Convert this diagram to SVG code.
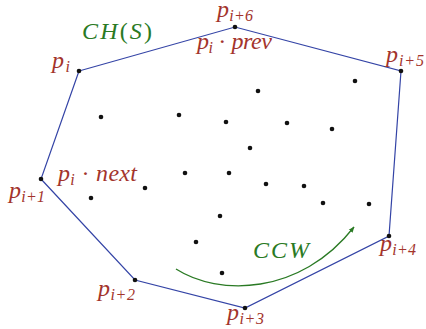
<svg xmlns="http://www.w3.org/2000/svg" width="426" height="329" viewBox="0 0 426 329">
<defs>
<style>
.pt{fill:#111}
.hull{fill:none;stroke:#3444a6;stroke-width:1.2}
.lbl{font-family:"Liberation Serif","DejaVu Serif",serif;font-style:italic;font-size:24px;fill:#a3342c}
.sub{font-size:16px}
.up{font-style:normal}
.grn{font-family:"Liberation Serif","DejaVu Serif",serif;font-style:italic;font-size:24px;fill:#2a7a24}
.arc{fill:none;stroke:#2a7a24;stroke-width:1.3}
</style>
<marker id="ah" viewBox="0 0 10 10" refX="9" refY="5" markerWidth="6" markerHeight="6" orient="auto" markerUnits="userSpaceOnUse">
<path d="M0,1 L10,5 L0,9 Z" fill="#2a7a24"/>
</marker>
</defs>
<rect width="426" height="329" fill="#fff"/>
<g id="connectors">
<path class="hull" d="M79,71 L235,27 L401,71 L389,236 L245,308 L135,280 L41,179 Z"/>
<path class="arc" d="M176,269 C218,296 300,296 354,227" marker-end="url(#ah)"/>
</g>
<g id="p_i"><circle class="pt" cx="79" cy="71" r="2.3"/><text class="lbl" x="52" y="68" textLength="18" lengthAdjust="spacing">p<tspan class="sub" dy="4">i</tspan></text></g>
<g id="p_i6"><circle class="pt" cx="235" cy="27" r="2.3"/><text class="lbl" x="217" y="16.5" textLength="36" lengthAdjust="spacing">p<tspan class="sub" dy="4">i+6</tspan></text></g>
<g id="p_i5"><circle class="pt" cx="401" cy="71" r="2.3"/><text class="lbl" x="386" y="62" textLength="38" lengthAdjust="spacing">p<tspan class="sub" dy="4">i+5</tspan></text></g>
<g id="p_i4"><circle class="pt" cx="389" cy="236" r="2.3"/><text class="lbl" x="380" y="251" textLength="36" lengthAdjust="spacing">p<tspan class="sub" dy="4">i+4</tspan></text></g>
<g id="p_i3"><circle class="pt" cx="245" cy="308" r="2.3"/><text class="lbl" x="227" y="320" textLength="37" lengthAdjust="spacing">p<tspan class="sub" dy="4">i+3</tspan></text></g>
<g id="p_i2"><circle class="pt" cx="135" cy="280" r="2.3"/><text class="lbl" x="98" y="296" textLength="37" lengthAdjust="spacing">p<tspan class="sub" dy="4">i+2</tspan></text></g>
<g id="p_i1"><circle class="pt" cx="41" cy="179" r="2.3"/><text class="lbl" x="9" y="198" textLength="36" lengthAdjust="spacing">p<tspan class="sub" dy="4">i+1</tspan></text></g>
<g id="interior">
<circle class="pt" cx="101" cy="117" r="2.3"/>
<circle class="pt" cx="179" cy="115" r="2.3"/>
<circle class="pt" cx="258" cy="91" r="2.3"/>
<circle class="pt" cx="226" cy="122" r="2.3"/>
<circle class="pt" cx="287" cy="123" r="2.3"/>
<circle class="pt" cx="355" cy="81" r="2.3"/>
<circle class="pt" cx="332" cy="129" r="2.3"/>
<circle class="pt" cx="250" cy="148" r="2.3"/>
<circle class="pt" cx="185" cy="173" r="2.3"/>
<circle class="pt" cx="229" cy="173" r="2.3"/>
<circle class="pt" cx="266" cy="184" r="2.3"/>
<circle class="pt" cx="304" cy="186" r="2.3"/>
<circle class="pt" cx="145" cy="188" r="2.3"/>
<circle class="pt" cx="91" cy="198" r="2.3"/>
<circle class="pt" cx="323" cy="203" r="2.3"/>
<circle class="pt" cx="369" cy="204" r="2.3"/>
<circle class="pt" cx="220" cy="216" r="2.3"/>
<circle class="pt" cx="196" cy="242" r="2.3"/>
<circle class="pt" cx="222" cy="273" r="2.3"/>
</g>
<g id="labels">
<text class="grn" x="82" y="39" textLength="70" lengthAdjust="spacing">CH<tspan class="up">(</tspan>S<tspan class="up">)</tspan></text>
<text class="lbl" x="197" y="49" textLength="75" lengthAdjust="spacing">p<tspan class="sub" dy="4">i</tspan><tspan class="up" dy="-4"> · </tspan>prev</text>
<text class="lbl" x="58" y="181" textLength="79" lengthAdjust="spacing">p<tspan class="sub" dy="4">i</tspan><tspan class="up" dy="-4"> · </tspan>next</text>
<text class="grn" x="253" y="258" textLength="56" lengthAdjust="spacing">CCW</text>
</g>
</svg>
